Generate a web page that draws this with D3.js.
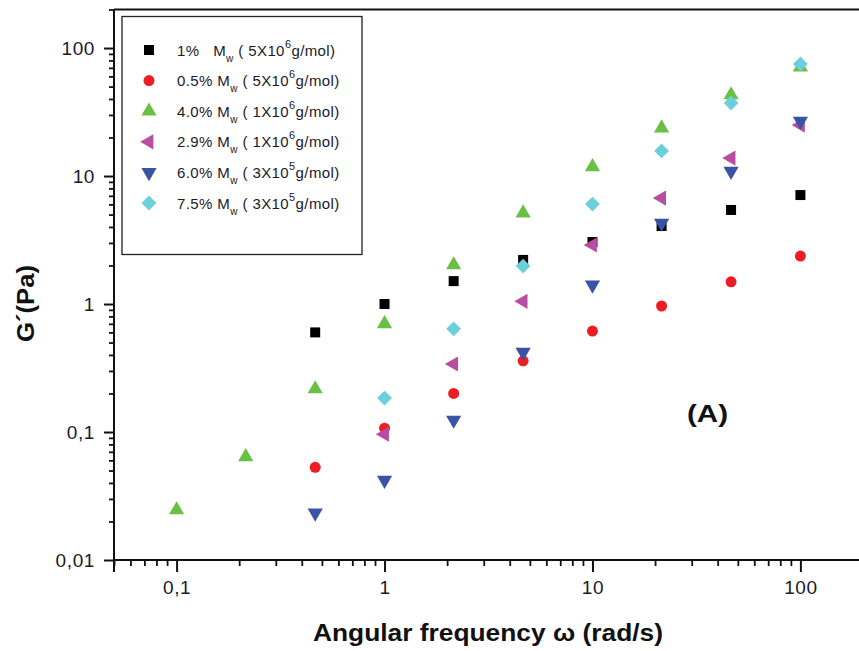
<!DOCTYPE html>
<html>
<head>
<meta charset="utf-8">
<script src="https://cdn.jsdelivr.net/npm/d3@7"></script>
<style>
  body { margin: 0; background: #fff; }
  svg { display: block; font-family: "Liberation Sans", Arial, sans-serif; }
</style>
</head>
<body>
<div id="wrapper"></div>
<script>
// angular frequency (rad/s)
const omega = [0.1, 0.215, 0.464, 1, 2.15, 4.64, 10, 21.5, 46.4, 100];

// G' values (Pa), null = no point
const g_1pct   = [null, null, 0.60, 1.0, 1.51, 2.21, 3.05, 4.07, 5.43, 7.1];
const g_05pct  = [null, null, 0.053, 0.107, 0.20, 0.36, 0.615, 0.965, 1.49, 2.37];
const g_40pct  = [0.0246, 0.064, 0.217, 0.70, 2.02, 5.14, 11.8, 23.7, 43, 71];
const g_29pct  = [null, null, null, 0.096, 0.34, 1.05, 2.89, 6.73, 13.8, 25];
const g_60pct  = [null, null, 0.0233, 0.042, 0.124, 0.42, 1.41, 4.29, 10.9, 26.9];
const g_75pct  = [null, null, null, 0.184, 0.64, 1.98, 6.04, 15.7, 37.2, 75];

const seriesNames = ["1%", "0.5%", "4.0%", "2.9%", "6.0%", "7.5%"];
const mwMantissa  = ["5", "5", "1", "1", "3", "3"];
const mwExponent  = ["6", "6", "6", "6", "5", "5"];
const seriesColors = ["#000000", "#ee1c24", "#6abf45", "#b84ea0", "#3a53a4", "#6dcfdc"];

const xTickLabels = ["0,1", "1", "10", "100"];
const xTickValues = [0.1, 1, 10, 100];
const yTickLabels = ["0,01", "0,1", "1", "10", "100"];
const yTickValues = [0.01, 0.1, 1, 10, 100];

function buildPlot() {
    const dimension = {
        width: 859,
        height: 651,
        margin: { top: 9.5, left: 114, bottom: 91, right: -4 }
    };
    dimension.boundedWidth = dimension.width - dimension.margin.left - dimension.margin.right;
    dimension.boundedHeight = dimension.height - dimension.margin.top - dimension.margin.bottom;

    const svg = d3.select("#wrapper").append("svg")
        .attr("width", dimension.width)
        .attr("height", dimension.height);

    const xScaler = d3.scaleLog()
        .domain([0.05, 200])
        .range([dimension.margin.left, dimension.margin.left + dimension.boundedWidth]);

    const yScaler = d3.scaleLog()
        .domain([0.01, 200])
        .range([dimension.margin.top + dimension.boundedHeight, dimension.margin.top]);

    const minor = (lo, hi) => {
        let out = [];
        for (let e = Math.floor(Math.log10(lo)); e <= Math.ceil(Math.log10(hi)); e++) {
            for (let k = 2; k <= 9; k++) {
                const v = k * Math.pow(10, e);
                if (v >= lo && v <= hi) out.push(v);
            }
        }
        return out;
    };

    const yBottom = dimension.margin.top + dimension.boundedHeight;
    const xLeft = dimension.margin.left;

    // minor ticks
    svg.append("g")
        .attr("transform", `translate(0,${yBottom})`)
        .call(d3.axisBottom(xScaler).tickValues(minor(0.05, 200)).tickSize(6).tickFormat(""))
        .call(g => g.select(".domain").remove())
        .selectAll("line").attr("stroke", "#111").attr("stroke-width", 1.8);

    svg.append("g")
        .attr("transform", `translate(${xLeft},0)`)
        .call(d3.axisLeft(yScaler).tickValues(minor(0.01, 200)).tickSize(5).tickFormat(""))
        .call(g => g.select(".domain").remove())
        .selectAll("line").attr("stroke", "#111").attr("stroke-width", 1.8);

    // major ticks + labels
    const xAxis = svg.append("g")
        .attr("transform", `translate(0,${yBottom})`)
        .call(d3.axisBottom(xScaler).tickValues(xTickValues).tickSize(12).tickPadding(9)
            .tickFormat((d, i) => xTickLabels[i]));
    xAxis.select(".domain").remove();
    xAxis.selectAll("line").attr("stroke", "#111").attr("stroke-width", 2);
    xAxis.selectAll("text").attr("font-size", 19).attr("fill", "#1a1a2a")
        .attr("letter-spacing", 0.6)
        .attr("font-family", "Liberation Sans, Arial, sans-serif");

    const yAxis = svg.append("g")
        .attr("transform", `translate(${xLeft},0)`)
        .call(d3.axisLeft(yScaler).tickValues(yTickValues).tickSize(10).tickPadding(9)
            .tickFormat((d, i) => yTickLabels[i]));
    yAxis.select(".domain").remove();
    yAxis.selectAll("line").attr("stroke", "#111").attr("stroke-width", 2);
    yAxis.selectAll("text").attr("font-size", 19).attr("fill", "#1a1a2a")
        .attr("letter-spacing", 0.6)
        .attr("font-family", "Liberation Sans, Arial, sans-serif");

    // frame lines (left, bottom, top)
    const xRight = dimension.margin.left + dimension.boundedWidth;
    svg.append("line").attr("x1", xLeft).attr("x2", xLeft)
        .attr("y1", dimension.margin.top).attr("y2", yBottom + 12)
        .attr("stroke", "#111").attr("stroke-width", 2);
    svg.append("line").attr("x1", xLeft).attr("x2", xRight)
        .attr("y1", yBottom).attr("y2", yBottom)
        .attr("stroke", "#111").attr("stroke-width", 2);
    svg.append("line").attr("x1", xLeft).attr("x2", xRight)
        .attr("y1", dimension.margin.top).attr("y2", dimension.margin.top)
        .attr("stroke", "#111").attr("stroke-width", 2);

    // symbols
    const symbols = [
        { type: d3.symbolSquare, size: 100, rotate: 0 },
        { type: d3.symbolCircle, size: 95, rotate: 0 },
        { type: d3.symbolTriangle, size: 100, rotate: 0 },
        { type: d3.symbolTriangle, size: 100, rotate: -90 },
        { type: d3.symbolTriangle, size: 100, rotate: 180 },
        { type: d3.symbolSquare, size: 110, rotate: 45 }
    ];

    const allSeries = [g_1pct, g_05pct, g_40pct, g_29pct, g_60pct, g_75pct];

    const plot = svg.append("g");
    allSeries.forEach((vals, s) => {
        const pts = omega.map((w, i) => ({ x: w, y: vals[i] })).filter(d => d.y != null);
        plot.append("g").selectAll("path")
            .data(pts)
            .enter()
            .append("path")
            .attr("d", d3.symbol().type(symbols[s].type).size(symbols[s].size))
            .attr("transform", d => `translate(${xScaler(d.x)},${yScaler(d.y)}) rotate(${symbols[s].rotate})`)
            .attr("fill", seriesColors[s]);
    });

    // legend
    const legend = svg.append("g");
    legend.append("rect")
        .attr("x", 122).attr("y", 16.5)
        .attr("width", 240).attr("height", 238)
        .attr("fill", "#fff").attr("stroke", "#222").attr("stroke-width", 1.3);

    const rows = legend.selectAll("g.row")
        .data(seriesNames)
        .enter()
        .append("g")
        .attr("class", "row")
        .attr("transform", (d, i) => `translate(0,${50 + i * 30.6})`);

    rows.append("path")
        .attr("d", (d, i) => d3.symbol().type(symbols[i].type).size(symbols[i].size)())
        .attr("transform", (d, i) => `translate(149,0) rotate(${symbols[i].rotate})`)
        .attr("fill", (d, i) => seriesColors[i]);

    const txt = rows.append("text")
        .attr("x", 177).attr("y", 5.5)
        .attr("font-size", 15).attr("letter-spacing", 0.4).attr("fill", "#1a1a2a");
    txt.append("tspan").text((d, i) => i === 0 ? d + "\u00a0\u00a0\u00a0M" : d + " M");
    txt.append("tspan").attr("font-size", 10).attr("dy", 6).text("w");
    txt.append("tspan").attr("dy", -6).text((d, i) => " ( " + mwMantissa[i] + "X10");
    txt.append("tspan").attr("font-size", 11).attr("dy", -8).text((d, i) => mwExponent[i]);
    txt.append("tspan").attr("dy", 8).text("g/mol)");

    // axis titles
    svg.append("text")
        .attr("x", 313).attr("y", 641)
        .attr("textLength", 350).attr("lengthAdjust", "spacingAndGlyphs")
        .attr("font-size", 23).attr("font-weight", "bold").attr("fill", "#111")
        .text("Angular frequency \u03c9 (rad/s)");

    svg.append("text")
        .attr("transform", "translate(34,342) rotate(-90)")
        .attr("textLength", 77).attr("lengthAdjust", "spacingAndGlyphs")
        .attr("font-size", 23).attr("font-weight", "bold").attr("fill", "#111")
        .text("G\u00b4(Pa)");

    svg.append("text")
        .attr("x", 687).attr("y", 422)
        .attr("textLength", 41).attr("lengthAdjust", "spacingAndGlyphs")
        .attr("font-size", 23).attr("font-weight", "bold").attr("fill", "#111")
        .text("(A)");
}

buildPlot();
</script>
</body>
</html>
